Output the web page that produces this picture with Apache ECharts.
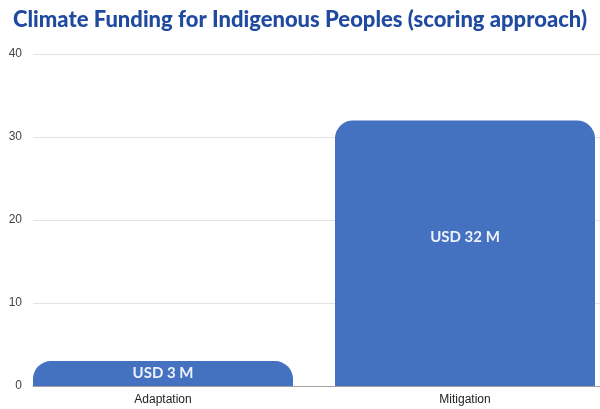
<!DOCTYPE html>
<html>
<head>
<meta charset="utf-8">
<script src="https://cdn.jsdelivr.net/npm/echarts@6/dist/echarts.min.js"></script>
<style>html,body{margin:0;padding:0;background:#fff}#c{width:600px;height:409px}</style>
</head>
<body>
<div id="c"></div>
<script>
const titleText = 'Climate Funding for Indigenous Peoples (scoring approach)';
const categories = ['Adaptation', 'Mitigation'];
const values = [3, 32];
const barLabels = ['USD 3 M', 'USD 32 M'];
const yTicks = [0, 10, 20, 30, 40];

const chart = echarts.init(document.getElementById('c'), null, {renderer: 'canvas'});
const yMin = yTicks[0], yMax = yTicks[yTicks.length - 1], yStep = yTicks[1] - yTicks[0];

chart.setOption({
  animation: false,
  title: {
    text: titleText,
    left: 'center',
    top: 4,
    textStyle: {fontFamily: 'Lato', fontWeight: 900, fontSize: 22, color: '#1f4a9f'}
  },
  grid: [
    {left: 33, right: 0, top: 54, bottom: 23, outerBoundsMode: 'none'},
    {left: 12, right: -16, top: 54, bottom: 23, outerBoundsMode: 'none'}
  ],
  xAxis: [
    {gridIndex: 0, type: 'category', data: categories,
     axisLine: {show: true, lineStyle: {color: '#a0a0a0', width: 1}},
     axisTick: {show: false}, axisLabel: {show: false}, splitLine: {show: false}},
    {gridIndex: 1, type: 'category', data: categories,
     axisLine: {show: false}, axisTick: {show: false},
     axisLabel: {color: '#222', fontFamily: 'Liberation Sans', fontSize: 12, margin: 8}}
  ],
  yAxis: [
    {gridIndex: 0, type: 'value', min: yMin, max: yMax, interval: yStep,
     axisLine: {show: false}, axisTick: {show: false},
     axisLabel: {color: '#444', fontFamily: 'Liberation Sans', fontSize: 12, margin: 11},
     splitLine: {lineStyle: {color: '#e3e3e3'}}},
    {gridIndex: 1, type: 'value', min: yMin, max: yMax, interval: yStep, show: false}
  ],
  series: [{
    type: 'bar',
    xAxisIndex: 1, yAxisIndex: 1,
    barWidth: 260,
    data: values.map((v, i) => ({
      value: v,
      label: {
        show: true,
        position: 'inside',
        offset: i === 1 ? [0, -16] : [0, 0],
        formatter: barLabels[i],
        color: '#eef2fb',
        fontFamily: 'Lato',
        fontWeight: 'bold',
        fontSize: 15
      }
    })),
    itemStyle: {color: '#4571c1', borderRadius: [18, 18, 0, 0]}
  }]
});
</script>
</body>
</html>
